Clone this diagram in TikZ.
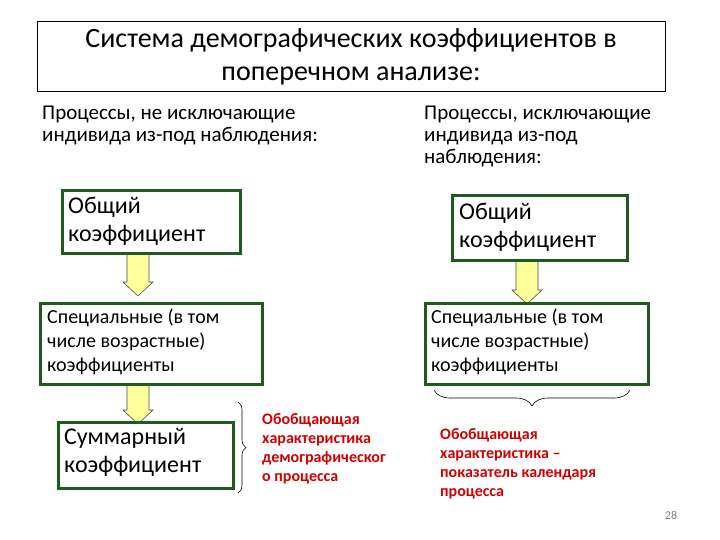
\documentclass[tikz,border=0pt]{standalone}
\usepackage{fontspec}
\setmainfont{Carlito}
\usetikzlibrary{decorations.pathreplacing}
\definecolor{gbox}{HTML}{1F5A1F}
\definecolor{ylw}{HTML}{FFFF99}
\definecolor{redt}{HTML}{D00000}
\newcommand{\yarrow}[3]{\draw[arrw] (#1-11,#2) -- (#1+11,#2) -- (#1+11,#3-14) -- (#1+15,#3-14) -- (#1,#3) -- (#1-15,#3-14) -- (#1-11,#3-14) -- cycle;}
\begin{document}
\begin{tikzpicture}[x=1pt,y=-1pt,
  bx/.style={draw=gbox,line width=3pt,fill=white},
  lbl/.style={anchor=north west,align=left,inner sep=0pt},
  arrw/.style={draw=gray!60!black,fill=ylw,line width=0.6pt},
  red/.style={anchor=north west,align=left,inner sep=0pt,text=redt,font=\bfseries\fontsize{16}{19}\selectfont}]
\useasboundingbox (0,0) rectangle (720,540);
\draw[line width=1pt] (37,22) rectangle (665,92);
\node[align=center,font=\fontsize{28}{33}\selectfont] (title) at (351,57) {Система демографических коэффициентов в\\поперечном анализе:};
\node[lbl,font=\fontsize{21}{22}\selectfont] (hl) at (42,106) {Процессы, не исключающие\\индивида из-под наблюдения:};
\node[lbl,font=\fontsize{21}{22}\selectfont] (hr) at (424,106) {Процессы, исключающие\\индивида из-под\\наблюдения:};
\yarrow{138}{253}{296}
\yarrow{138}{384}{424}
\yarrow{527}{260}{304}
\draw[bx] (62,191) rectangle (240,253);
\node[lbl,font=\fontsize{24}{28}\selectfont] (b1l) at (68,197) {Общий\\коэффициент};
\draw[bx] (452,196) rectangle (627,260);
\node[lbl,font=\fontsize{24}{28}\selectfont] (b1r) at (459,203) {Общий\\коэффициент};
\draw[bx] (40,303) rectangle (262,384);
\node[lbl,font=\fontsize{20}{24}\selectfont] (b2l) at (47,309) {Специальные (в том\\числе возрастные)\\коэффициенты};
\draw[bx] (425,303) rectangle (648,384);
\node[lbl,font=\fontsize{20}{24}\selectfont] (b2r) at (431,309) {Специальные (в том\\числе возрастные)\\коэффициенты};
\draw[bx] (58,422) rectangle (233,488);
\node[lbl,font=\fontsize{24}{28}\selectfont] (b3l) at (64,428) {Суммарный\\коэффициент};
\coordinate (bt) at (238,402); \coordinate (bb) at (238,493);
\draw[decorate,decoration={brace,amplitude=8pt},line width=0.6pt] (bt) -- (bb);
\coordinate (rl) at (434,390); \coordinate (rr) at (630,390);
\draw[decorate,decoration={brace,amplitude=16pt},line width=0.6pt] (rr) -- (rl);
\node[red] (t1) at (262,413) {Обобщающая\\характеристика\\демографическог\\о процесса};
\node[red] (t2) at (440,428) {Обобщающая\\характеристика –\\показатель календаря\\процесса};
\node[text=gray,font=\fontsize{12}{13}\selectfont] (pg) at (671,515) {28};
\end{tikzpicture}
\end{document}
